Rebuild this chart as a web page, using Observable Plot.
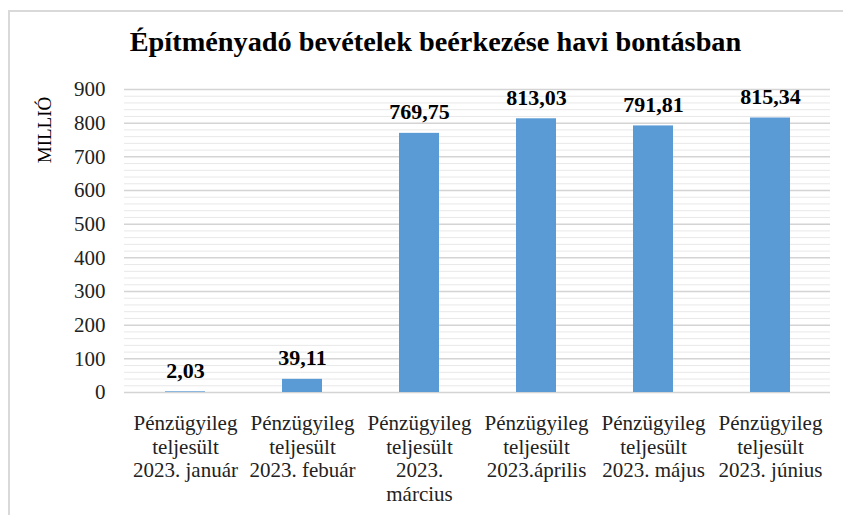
<!DOCTYPE html>
<html>
<head>
<meta charset="utf-8">
<script src="https://cdn.jsdelivr.net/npm/d3@7"></script>
<script src="https://cdn.jsdelivr.net/npm/@observablehq/plot@0.6"></script>
<style>
  html, body { margin: 0; padding: 0; background: #fff; overflow: hidden; }
  #wrap { position: relative; width: 843px; height: 515px; font-family: "Liberation Serif", serif; }
  #frame { position: absolute; left: 8px; top: 10px; width: 900px; height: 600px; border: 2px solid #d9d9d9; box-sizing: border-box; }
  #title { position: absolute; left: 0; width: 843px; top: 28px; text-align: center; font-weight: bold; font-size: 28.3px; color: #000; line-height: 1; transform: translateX(14px); }
  #ylabel { position: absolute; left: 45px; top: 130px; transform: translate(-50%, -50%) rotate(-90deg); font-size: 19px; color: #000; white-space: nowrap; }
  #chart { position: absolute; left: 0; top: 0; }
  #chart svg text { font-family: "Liberation Serif", serif; }
</style>
</head>
<body>
<div id="wrap">
  <div id="frame"></div>
  <div id="chart"></div>
  <div id="title">Építményadó bevételek beérkezése havi bontásban</div>
  <div id="ylabel">MILLIÓ</div>
</div>
<script>
const categories = [
  "Pénzügyileg\nteljesült\n2023. január",
  "Pénzügyileg\nteljesült\n2023. febuár",
  "Pénzügyileg\nteljesült\n2023.\nmárcius",
  "Pénzügyileg\nteljesült\n2023.április",
  "Pénzügyileg\nteljesült\n2023. május",
  "Pénzügyileg\nteljesült\n2023. június"
];
const values = [2.03, 39.11, 769.75, 813.03, 791.81, 815.34];
const yTicks = [0, 100, 200, 300, 400, 500, 600, 700, 800, 900];
const minorTicks = d3.range(0, 901, 20).filter(v => v % 100 !== 0);

const data = categories.map((c, i) => ({cat: c, value: values[i]}));
const fmt = v => v.toFixed(2).replace(".", ",");
const FONT = "Liberation Serif, serif";

const chart = Plot.plot({
  width: 843,
  height: 515,
  marginLeft: 124,
  marginRight: 13,
  marginTop: 89,
  marginBottom: 123,
  style: "font-family: 'Liberation Serif', serif; font-size: 16px; color: #000; background: transparent;",
  x: {domain: categories, paddingInner: 0.66, paddingOuter: 0.33, label: null},
  y: {domain: [0, 900], label: null},
  marks: [
    Plot.ruleY(minorTicks, {stroke: "#e8e8e8", strokeWidth: 1, strokeOpacity: 1}),
    Plot.ruleY(yTicks, {stroke: "#d4d4d4", strokeWidth: 1.5, strokeOpacity: 1}),
    Plot.barY(data, {x: "cat", y: "value", fill: "#5b9bd5"}),
    Plot.text(data, {x: "cat", y: "value", text: d => fmt(d.value), dy: -21, fontWeight: "bold", fontSize: 22, fontFamily: FONT, fill: "#000"}),
    Plot.axisY({ticks: yTicks, tickSize: 0, tickPadding: 19, label: null, fontSize: 21, fontFamily: FONT, fill: "#222"}),
    Plot.axisX({tickSize: 0, tickPadding: 21, label: null, fontSize: 21, fontFamily: FONT, lineHeight: 1.12, fill: "#222"})
  ]
});
document.getElementById("chart").appendChild(chart);
</script>
</body>
</html>
